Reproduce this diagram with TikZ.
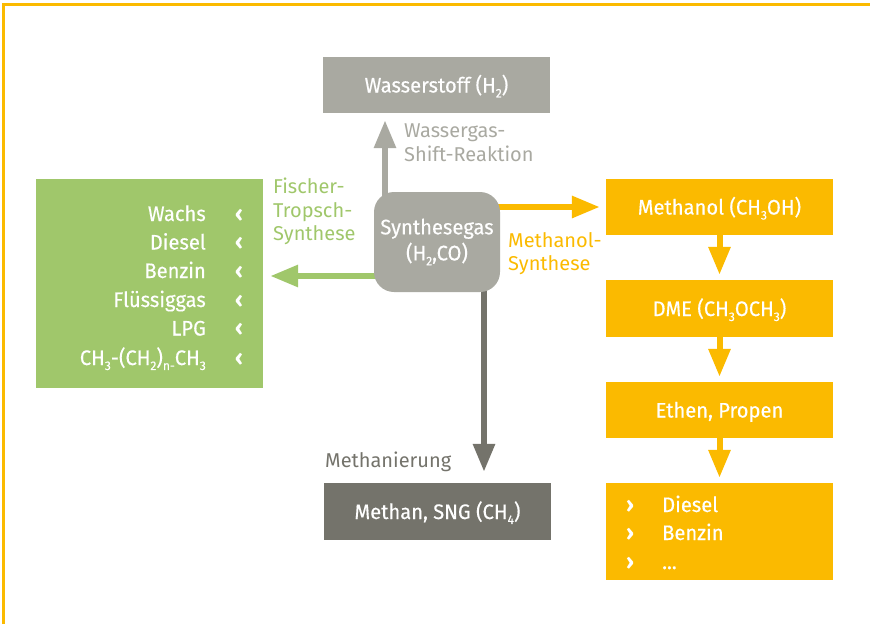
\documentclass[tikz,border=0pt]{standalone}
\usepackage{fontspec}
\setmainfont{Fira Sans}
\newfontfamily\boxfont{Fira Sans}[FakeStretch=0.96, FakeBold=0.35]
\usetikzlibrary{arrows.meta}
\definecolor{cgrey}{HTML}{A9A9A1}
\definecolor{cdark}{HTML}{74736B}
\definecolor{cgreen}{HTML}{A0C76B}
\definecolor{corange}{HTML}{FBBA00}
\newcommand{\chs}[1]{\raisebox{-0.45ex}{\fontsize{12.5}{13}\selectfont #1}}
\pgfdeclarelayer{bg}\pgfsetlayers{bg,main}
\tikzset{
  box/.style={draw=none, minimum width=227pt, minimum height=56pt, inner sep=0pt,
    text=white, font=\boxfont\fontsize{21}{25}\selectfont, text height=15pt, text depth=0pt},
  lbl/.style={anchor=base west, inner sep=0pt, font=\fontsize{20}{23}\selectfont},
  gtxt/.style={anchor=base east, inner sep=0pt, text=white, font=\boxfont\fontsize{21}{25}\selectfont},
  chev/.style={anchor=base, inner sep=0pt, text=white, font=\bfseries\fontsize{22}{25}\selectfont},
  arr/.style={line width=6pt, -{Triangle[width=21pt,length=28pt]}}
}
\begin{document}
\begin{tikzpicture}[x=1pt,y=-1pt]
\useasboundingbox (0,0) rectangle (870,624);
\draw[corange, line width=3pt] (3.5,624) -- (3.5,4.5) -- (870,4.5);

% boxes
\node[box, fill=cgrey] (wass) at (436.5,85) {Wasserstoff (H\chs{2})};
\node[box, fill=cgrey, minimum width=126pt, minimum height=100pt, rounded corners=20pt,
      align=center, text height=, text depth=, font=\boxfont\fontsize{21}{26}\selectfont] (syn) at (437,242) {Synthesegas\\(H\chs{2},CO)};
\node[box, fill=cgreen, minimum height=209pt] (fts) at (149.5,283.5) {};
\node[box, fill=cdark, minimum height=57pt] (methan) at (437.5,511.5) {Methan, SNG (CH\chs{4})};
\node[box, fill=corange] (meoh) at (719.5,207) {Methanol (CH\chs{3}OH)};
\node[box, fill=corange, minimum height=57pt] (dme) at (719.5,308.5) {DME (CH\chs{3}OCH\chs{3})};
\node[box, fill=corange] (ethen) at (719.5,410) {Ethen, Propen};
\node[box, fill=corange, minimum height=97pt] (prod) at (719.5,531.5) {};

% green list
\node[gtxt] (g1) at (206,221) {Wachs};
\node[gtxt] (g2) at (206,249.5) {Diesel};
\node[gtxt] (g3) at (206,278) {Benzin};
\node[gtxt] (g4) at (206,307) {Flüssiggas};
\node[gtxt] (g5) at (206,335.5) {LPG};
\node[gtxt] (g6) at (206,365) {CH\chs{3}-(CH\chs{2})\chs{n-}CH\chs{3}};
\foreach \y/\n in {221/c1,249.5/c2,278/c3,307/c4,335.5/c5,365/c6}
  \node[chev] (\n) at (239,\y) {‹};

% orange list
\node[chev] (b1) at (630,512) {›};
\node[chev] (b2) at (630,540) {›};
\node[chev] (b3) at (630,569) {›};
\node[gtxt, anchor=base west] (p1) at (662,512) {Diesel};
\node[gtxt, anchor=base west] (p2) at (662,540) {Benzin};
\node[gtxt, anchor=base west] (p3) at (662,569) {...};

% labels
\node[lbl, text=cgrey] (wg1) at (404,137) {Wassergas-};
\node[lbl, text=cgrey] (wg2) at (404,161) {Shift-Reaktion};
\node[lbl, text=corange] (ms1) at (508,247) {Methanol-};
\node[lbl, text=corange] (ms2) at (508,270) {Synthese};
\node[lbl, text=cgreen] (ft1) at (273,193) {Fischer-};
\node[lbl, text=cgreen] (ft2) at (273,217) {Tropsch-};
\node[lbl, text=cgreen] (ft3) at (273,240) {Synthese};
\node[lbl, text=cdark] (mt) at (325,467) {Methanierung};

% arrows
\begin{pgfonlayer}{bg}
\draw[arr, cgrey, shorten >=7pt] ([xshift=-52pt]syn.center) -- ([xshift=-52pt]syn.center |- wass.south);
\draw[arr, corange, shorten >=6pt] ([yshift=35pt]syn.center) -- ([yshift=35pt]syn.center -| meoh.west);
\draw[arr, cgreen, shorten >=7pt] ([yshift=-34pt]syn.center) -- ([yshift=-34pt]syn.center -| fts.east);
\draw[arr, cdark, shorten >=11pt] ([xshift=47pt]syn.center) -- ([xshift=47pt]syn.center |- methan.north);
\draw[arr, corange, shorten >=5pt] (meoh.south) -- (dme.north);
\draw[arr, corange, shorten >=5pt] (dme.south) -- (ethen.north);
\draw[arr, corange, shorten >=5pt] (ethen.south) -- (prod.north);
\end{pgfonlayer}
\end{tikzpicture}
\end{document}
